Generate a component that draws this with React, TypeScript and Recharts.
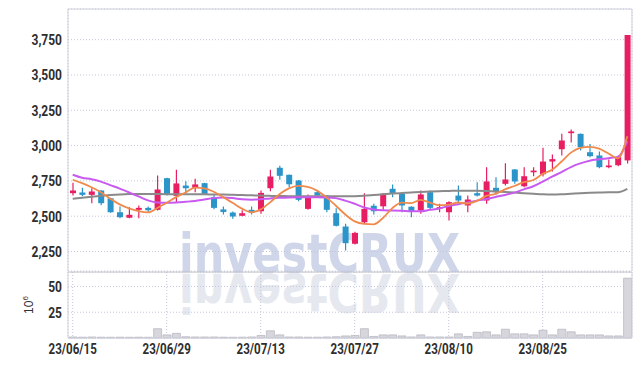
import React from 'react';
import { ComposedChart, Bar, Line, XAxis, YAxis, CartesianGrid } from 'recharts';

const dates = [
  '23/06/15', '23/06/16', '23/06/19', '23/06/20', '23/06/21', '23/06/22', '23/06/23', '23/06/26', '23/06/27', '23/06/28',
  '23/06/29', '23/06/30', '23/07/03', '23/07/04', '23/07/05', '23/07/06', '23/07/07', '23/07/10', '23/07/11', '23/07/12',
  '23/07/13', '23/07/14', '23/07/17', '23/07/18', '23/07/19', '23/07/20', '23/07/21', '23/07/24', '23/07/25', '23/07/26',
  '23/07/27', '23/07/28', '23/07/31', '23/08/01', '23/08/02', '23/08/03', '23/08/04', '23/08/07', '23/08/08', '23/08/09',
  '23/08/10', '23/08/11', '23/08/14', '23/08/16', '23/08/17', '23/08/18', '23/08/21', '23/08/22', '23/08/23', '23/08/24',
  '23/08/25', '23/08/28', '23/08/29', '23/08/30', '23/08/31', '23/09/01', '23/09/04', '23/09/05', '23/09/06', '23/09/07',
];

const opens = [
  2663, 2668, 2651, 2682, 2627, 2528, 2489, 2545, 2559, 2545,
  2769, 2644, 2717, 2701, 2734, 2634, 2548, 2526, 2503, 2545,
  2535, 2698, 2843, 2793, 2753, 2552, 2670, 2646, 2521, 2427,
  2305, 2457, 2574, 2570, 2694, 2659, 2567, 2540, 2670, 2553,
  2528, 2646, 2576, 2663, 2611, 2701, 2729, 2831, 2712, 2811,
  2797, 2887, 2974, 3088, 3083, 2953, 2930, 2847, 2861, 2895,
];
const highs = [
  2736, 2701, 2698, 2684, 2630, 2569, 2564, 2576, 2569, 2788,
  2772, 2828, 2748, 2765, 2736, 2651, 2569, 2533, 2542, 2569,
  2682, 2828, 2857, 2795, 2757, 2654, 2684, 2648, 2557, 2447,
  2390, 2663, 2588, 2663, 2724, 2662, 2570, 2682, 2682, 2588,
  2605, 2717, 2646, 2741, 2847, 2776, 2875, 2835, 2847, 2847,
  2984, 2937, 3083, 3114, 3085, 3012, 2958, 2901, 2930, 3783,
];
const lows = [
  2646, 2641, 2592, 2578, 2524, 2486, 2486, 2486, 2524, 2540,
  2646, 2599, 2663, 2670, 2651, 2549, 2512, 2482, 2500, 2512,
  2517, 2677, 2758, 2705, 2606, 2545, 2630, 2528, 2427, 2257,
  2300, 2450, 2512, 2545, 2634, 2528, 2493, 2517, 2545, 2528,
  2469, 2599, 2528, 2640, 2588, 2654, 2717, 2729, 2705, 2783,
  2781, 2816, 2930, 3022, 2965, 2918, 2840, 2840, 2854, 2873,
];
const closes = [
  2682, 2651, 2675, 2592, 2528, 2493, 2510, 2559, 2542, 2689,
  2658, 2732, 2698, 2725, 2658, 2559, 2530, 2498, 2521, 2526,
  2665, 2781, 2786, 2726, 2616, 2630, 2646, 2545, 2432, 2309,
  2382, 2552, 2535, 2659, 2658, 2576, 2535, 2654, 2559, 2564,
  2599, 2611, 2618, 2646, 2746, 2670, 2760, 2746, 2783, 2823,
  2887, 2904, 3036, 3100, 2988, 2925, 2847, 2859, 2918, 3783,
];

const ma5 = [
  2758, 2734, 2705, 2670, 2624, 2584, 2555, 2536, 2527, 2558,
  2595, 2635, 2668, 2702, 2697, 2673, 2635, 2595, 2554, 2528,
  2548, 2598, 2655, 2697, 2715, 2708, 2681, 2633, 2574, 2512,
  2463, 2445, 2442, 2487, 2557, 2596, 2593, 2616, 2596, 2578,
  2582, 2597, 2590, 2608, 2644, 2658, 2690, 2714, 2741, 2756,
  2800, 2829, 2887, 2950, 2983, 2991, 2979, 2944, 2910, 3066,
];
const ma20 = [
  2793, 2772, 2762, 2745, 2720, 2695, 2668, 2640, 2612, 2597,
  2595, 2597, 2602, 2608, 2618, 2628, 2632, 2628, 2620, 2617,
  2620, 2626, 2630, 2633, 2634, 2634, 2634, 2633, 2628, 2610,
  2588, 2562, 2548, 2542, 2540, 2538, 2535, 2535, 2545, 2555,
  2572, 2585, 2598, 2610, 2622, 2636, 2650, 2667, 2690, 2712,
  2745, 2780, 2812, 2848, 2874, 2893, 2903, 2911, 2920, 3032,
];
const ma60 = [
  2623, 2630, 2638, 2645, 2650, 2654, 2657, 2658, 2658, 2657,
  2656, 2656, 2655, 2655, 2655, 2654, 2653, 2652, 2650, 2648,
  2646, 2644, 2643, 2642, 2641, 2641, 2641, 2641, 2641, 2641,
  2642, 2645, 2650, 2655, 2660, 2664, 2668, 2672, 2675, 2677,
  2679, 2680, 2681, 2680, 2678, 2675, 2671, 2667, 2663, 2659,
  2655, 2653, 2655, 2659, 2663, 2666, 2668, 2669, 2670, 2694,
];

const volumes = [
  1, 0.8, 1, 0.8, 0.7, 0.8, 0.7, 0.8, 0.7, 9,
  3, 4.5, 1.2, 1, 1, 1, 0.8, 0.7, 0.8, 1,
  2.5, 7, 3, 1, 1, 0.8, 0.8, 1, 1.2, 2,
  2.5, 9, 1.5, 3, 3, 2, 1, 3, 1, 1,
  1, 4, 1.5, 5.5, 6, 3, 8.5, 4, 4, 3,
  7.5, 3, 8.5, 6, 3, 3, 3, 2, 2, 58,
];

const priceTicks = [2250, 2500, 2750, 3000, 3250, 3500, 3750];
const priceDomain = [2112, 3967];
const volumeTicks = [25, 50];
const volumeDomain = [0, 64];

const RED = '#e81e62';
const BLUE = '#2b95ca';
const FONT = 'Roboto, "Liberation Sans", sans-serif';
const GRID = '#c4c7dc';
const FRAME = '#cfd1de';

const rows = dates.map((d, i) => ({
  date: d,
  open: opens[i],
  high: highs[i],
  low: lows[i],
  close: closes[i],
  range: [lows[i], highs[i]],
  ma5: ma5[i],
  ma20: ma20[i],
  ma60: ma60[i],
  vol: volumes[i],
}));

const Candle = (props: any) => {
  const { x, y, width, height, payload } = props;
  if (x == null || y == null || !payload) return null;
  const { open, close, high, low } = payload;
  const color = close >= open ? RED : BLUE;
  const top = height >= 0 ? y : y + height;
  const h = Math.abs(height);
  const k = high > low ? h / (high - low) : 0;
  const bodyTop = top + (high - Math.max(open, close)) * k;
  const bodyH = Math.max(1.5, Math.abs(close - open) * k);
  const cx = x + width / 2;
  return (
    <g>
      <line x1={cx} x2={cx} y1={top} y2={top + h} stroke={color} strokeWidth={1.2} />
      <rect x={x} y={bodyTop} width={width} height={bodyH} fill={color} />
    </g>
  );
};

const fmt = (v: number) => Number(v).toLocaleString('en-US');

const YTick = (props: any) => {
  const { x, y, payload } = props;
  return (
    <text
      transform={`translate(${x},${y}) scale(0.8,1)`}
      textAnchor="end"
      dy="0.36em"
      fontFamily={FONT}
      fontSize={15}
      fontWeight={700}
      fill="#2e2e2e"
    >
      {fmt(payload.value)}
    </text>
  );
};

const XTick = (props: any) => {
  const { x, y, payload } = props;
  return (
    <text
      transform={`translate(${x},${y}) scale(0.77,1)`}
      textAnchor="middle"
      dy="0.71em"
      fontFamily={FONT}
      fontSize={15}
      fontWeight={700}
      fill="#2e2e2e"
    >
      {payload.value}
    </text>
  );
};

const VolLabel = (props: any) => {
  const vb = props.viewBox || {};
  const lx = (vb.x || 0) + 25;
  const ly = (vb.y || 0) + (vb.height || 0) / 2;
  return (
    <text
      x={lx}
      y={ly}
      transform={`rotate(-90 ${lx} ${ly})`}
      textAnchor="middle"
      fontFamily='"Liberation Sans", Arial, sans-serif'
      fontSize={12}
      fill="#333"
    >
      <tspan>10</tspan>
      <tspan dy={-5} fontSize={8}>6</tspan>
    </text>
  );
};

export default function App() {
  return (
    <div style={{ position: 'relative', width: 626, height: 358 }}>
      <svg
        width={626}
        height={358}
        style={{ position: 'absolute', left: 0, top: 0, pointerEvents: 'none' }}
      >
        <text
          x={171}
          y={264}
          fontFamily='"DejaVu Sans", "Liberation Sans", sans-serif'
          fontWeight="bold"
          fontSize={54}
          textLength={281}
          lengthAdjust="spacingAndGlyphs"
          fill="#d0d6ea"
        >
          investCRUX
        </text>
        <g transform="translate(0 530) scale(1 -1)">
          <text
            x={171}
            y={264}
            fontFamily='"DejaVu Sans", "Liberation Sans", sans-serif'
            fontWeight="bold"
            fontSize={54}
            textLength={281}
            lengthAdjust="spacingAndGlyphs"
            fill="#e6e8f0"
          >
            investCRUX
          </text>
        </g>
      </svg>
      <div style={{ position: 'relative' }}>
        <ComposedChart width={626} height={263} data={rows} margin={{ top: 0, right: 1, left: 0, bottom: 0 }}>
          <CartesianGrid stroke={GRID} strokeDasharray="1 2" />
          <XAxis dataKey="date" height={0} interval={9} tick={false} axisLine={false} tickLine={false} />
          <XAxis xAxisId="top" dataKey="date" orientation="top" height={1} tick={false} tickLine={false} axisLine={{ stroke: FRAME }} />
          <YAxis
            domain={priceDomain}
            ticks={priceTicks}
            allowDataOverflow
            width={60}
            tickLine={false}
            tickMargin={0}
            axisLine={{ stroke: FRAME }}
            tick={<YTick />}
          />
          <YAxis yAxisId="right" orientation="right" width={1} tick={false} tickLine={false} axisLine={{ stroke: FRAME }} />
          <Bar dataKey="range" barSize={6} shape={<Candle />} isAnimationActive={false} />
          <Line dataKey="ma60" type="monotone" stroke="#8a8a8a" strokeWidth={2} dot={false} isAnimationActive={false} />
          <Line dataKey="ma20" type="monotone" stroke="#c95af0" strokeWidth={2} dot={false} isAnimationActive={false} />
          <Line dataKey="ma5" type="monotone" stroke="#f08a4c" strokeWidth={1.8} dot={false} isAnimationActive={false} />
        </ComposedChart>
        <ComposedChart width={626} height={95} data={rows} margin={{ top: 0, right: 1, left: 0, bottom: 0 }}>
          <CartesianGrid stroke={GRID} strokeDasharray="1 2" />
          <XAxis
            dataKey="date"
            height={28}
            interval={9}
            tickLine={false}
            tickSize={3}
            tickMargin={2}
            axisLine={{ stroke: FRAME }}
            tick={<XTick />}
          />
          <XAxis xAxisId="sep" dataKey="date" orientation="top" height={1} tick={false} tickLine={false} axisLine={{ stroke: '#bfc0c8' }} />
          <YAxis
            domain={volumeDomain}
            ticks={volumeTicks}
            width={60}
            tickLine={false}
            tickMargin={0}
            axisLine={{ stroke: FRAME }}
            tick={<YTick />}
            label={<VolLabel />}
          />
          <YAxis yAxisId="right" orientation="right" width={1} tick={false} tickLine={false} axisLine={{ stroke: FRAME }} />
          <Bar dataKey="vol" barSize={8} fill="#d6d6dc" stroke="#b9b9c2" strokeWidth={0.8} isAnimationActive={false} />
        </ComposedChart>
      </div>
    </div>
  );
}
